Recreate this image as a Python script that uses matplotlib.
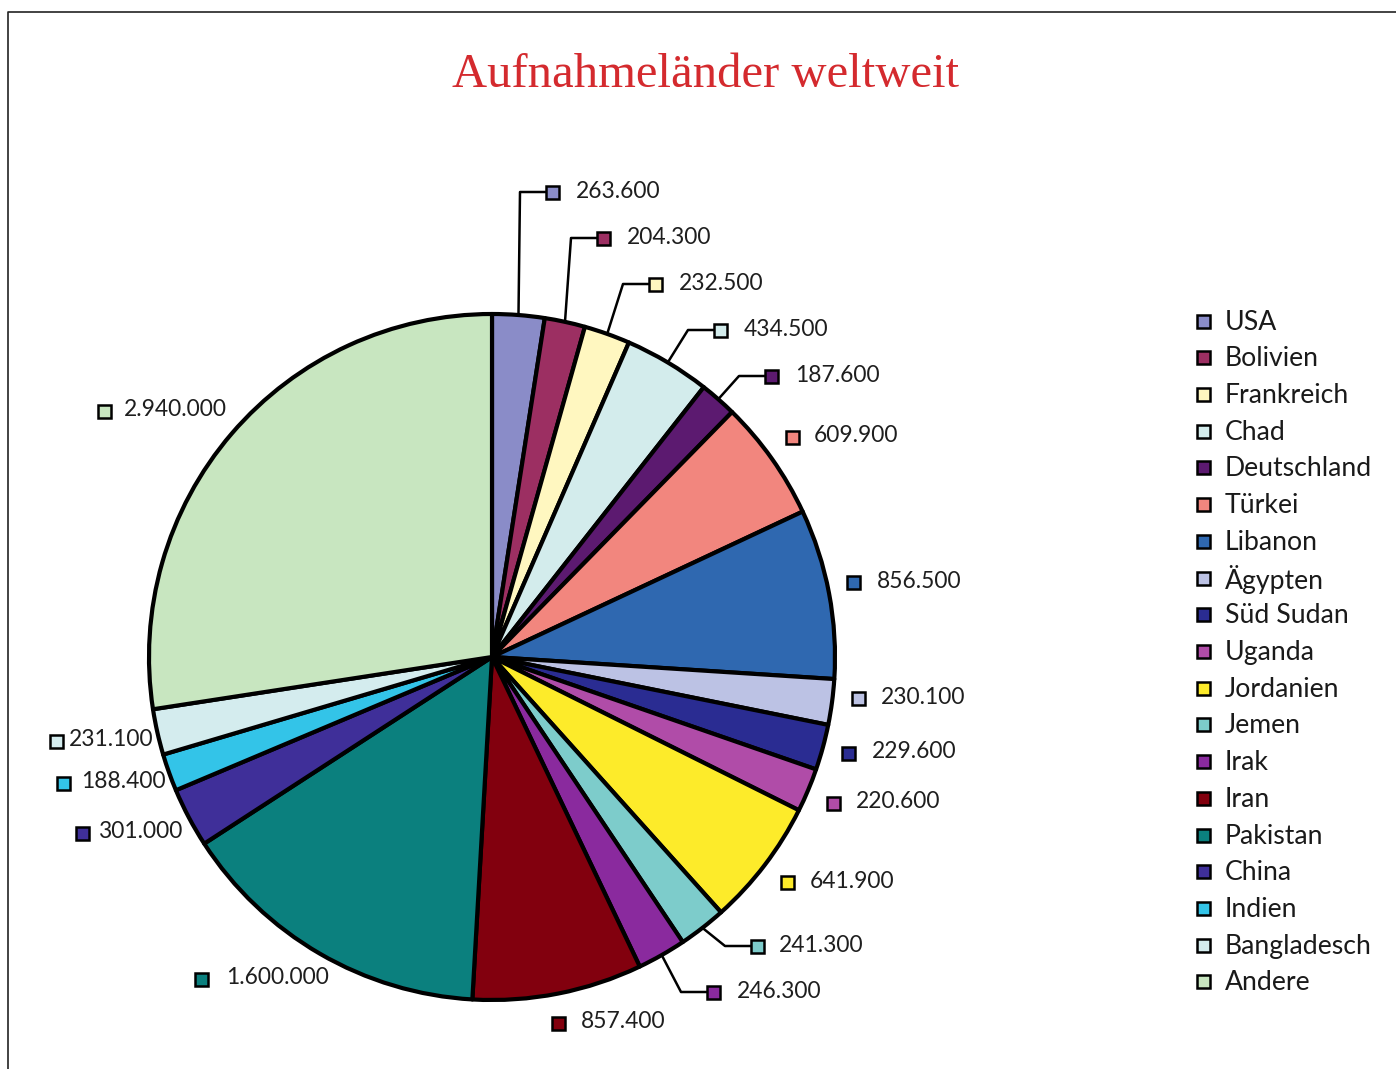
import matplotlib
matplotlib.use("Agg")
import matplotlib.pyplot as plt
from matplotlib.patches import Rectangle
from matplotlib.lines import Line2D
import numpy as np

# ---------------- data ----------------
countries = ["USA", "Bolivien", "Frankreich", "Chad", "Deutschland", "Türkei",
             "Libanon", "Ägypten", "Süd Sudan", "Uganda", "Jordanien", "Jemen",
             "Irak", "Iran", "Pakistan", "China", "Indien", "Bangladesch", "Andere"]
values = [263600, 204300, 232500, 434500, 187600, 609900,
          856500, 230100, 229600, 220600, 641900, 241300,
          246300, 857400, 1600000, 301000, 188400, 231100, 2940000]
colors = ["#8a8cc8", "#9c2f62", "#fff7c0", "#d3ecec", "#5c1a70", "#f2867e",
          "#2f68b0", "#bcc2e4", "#2a2c92", "#b04ca8", "#fdeb2a", "#7dcccb",
          "#8a2a9e", "#82000e", "#0b807e", "#3f2f99", "#33c4e8", "#d4ecee", "#c8e6c0"]
title = "Aufnahmeländer weltweit"

# ---------------- layout (pixel positions) ----------------
W, H = 1396, 1069
CX, CY, R = 492, 657, 343
# label marker centres (x, y from top) for each slice, and text offsets
label_pos = [(552, 192), (603, 238), (655, 284), (720, 330), (771, 376), (792, 437),
             (853, 582), (858, 698), (848, 753), (833, 803), (787, 882), (757, 946),
             (713, 992), (558, 1023), (201, 979), (82, 833), (63, 783), (56, 741),
             (104, 411)]
text_off = [24, 24, 24, 24, 24, 22, 24, 23, 24, 23, 23, 22, 24, 23, 25, 17, 18, 13, 20]
with_leader = {"USA", "Bolivien", "Frankreich", "Chad", "Deutschland", "Jemen", "Irak"}

fig = plt.figure(figsize=(W / 100, H / 100), dpi=100)
ax = fig.add_axes([0, 0, 1, 1])

def Y(py):
    return H - py

wedges, _ = ax.pie(values, colors=colors, startangle=90, counterclock=False,
                   center=(CX, Y(CY)), radius=R,
                   wedgeprops=dict(edgecolor="black", linewidth=3.0, joinstyle="round"))
ax.set_xlim(0, W)
ax.set_ylim(0, H)
ax.set_aspect("equal")
ax.axis("off")

label_font = dict(family=["Lato", "DejaVu Sans"], fontsize=16.4, color="#1e1e1e")
sq = 13

for name, v, c, w, (sx, sy), off in zip(countries, values, colors, wedges, label_pos, text_off):
    ax.add_patch(Rectangle((sx - sq / 2, Y(sy) - sq / 2), sq, sq, facecolor=c,
                           edgecolor="black", linewidth=1.8, zorder=5))
    txt = f"{v:,}".replace(",", ".")
    ax.text(sx + off, Y(sy) + 1, txt, va="center", ha="left", **label_font)
    if name in with_leader:
        th = np.deg2rad((w.theta1 + w.theta2) / 2)
        ex, ey = CX + R * np.cos(th), Y(CY) + R * np.sin(th)
        elx = sx - 32
        ax.add_line(Line2D([ex, elx, sx - sq / 2], [ey, Y(sy), Y(sy)],
                           color="black", linewidth=1.8, zorder=4))

# legend (manual)
leg_x, leg_y0, leg_dy = 1203, 321, 36.72
for i, (name, c) in enumerate(zip(countries, colors)):
    yy = Y(leg_y0 + i * leg_dy)
    ax.add_patch(Rectangle((leg_x - sq / 2, yy - sq / 2), sq, sq, facecolor=c,
                           edgecolor="black", linewidth=1.8))
    ax.text(leg_x + 22, yy - 1, name, va="center", ha="left",
            family=["Lato", "DejaVu Sans"], fontsize=19.2, color="#1a1a1a")

# title
ax.text(705, Y(75), title, ha="center", va="center", color="#d42a2e",
        family=["Liberation Serif", "DejaVu Serif"], fontsize=35)

# frame lines (top and left)
ax.add_line(Line2D([8, 8, W + 5], [-5, Y(12), Y(12)], color="#222222", linewidth=1.2))

fig.savefig("out.png", dpi=100)
